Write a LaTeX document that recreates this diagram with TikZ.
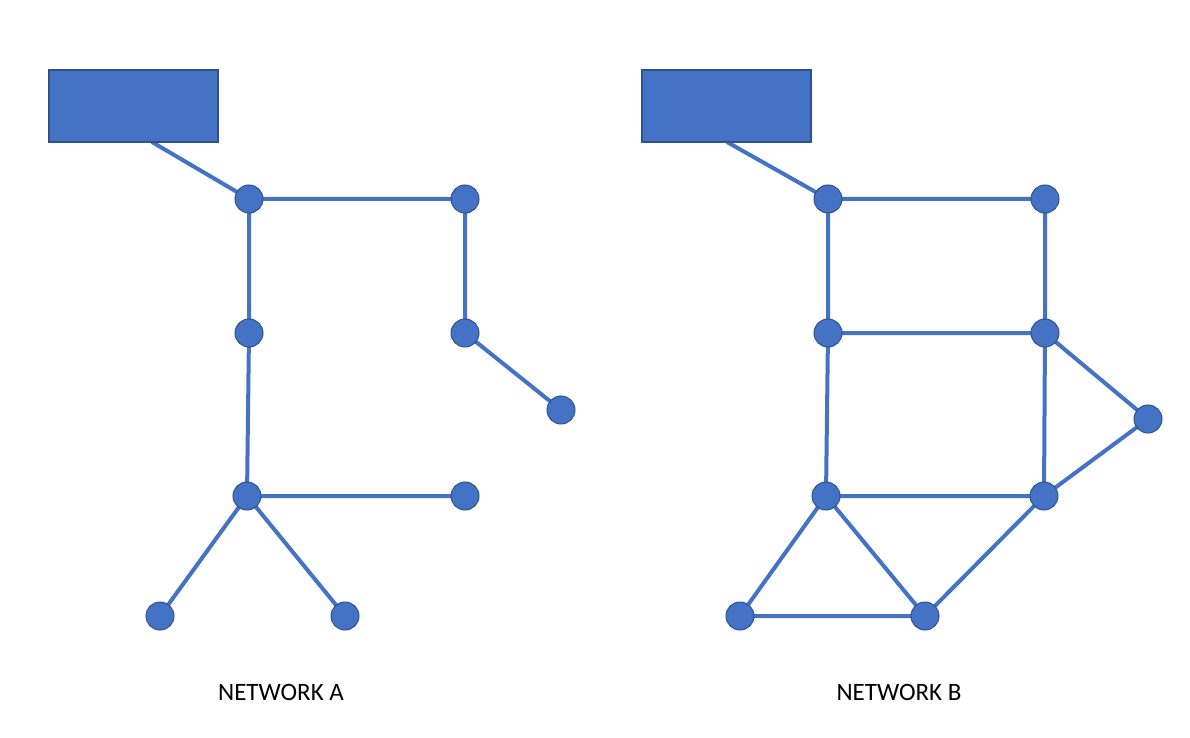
\documentclass[tikz,border=0pt]{standalone}
\usepackage{fontspec}
\setmainfont{Carlito}
\usetikzlibrary{backgrounds}
\definecolor{fillblue}{HTML}{4472C4}
\definecolor{edgeblue}{HTML}{2F528F}
\begin{document}
\begin{tikzpicture}[x=0.5pt,y=-0.5pt,
  dot/.style={circle,fill=fillblue,draw=edgeblue,line width=0.5pt,minimum size=14pt,inner sep=0pt},
  box/.style={rectangle,fill=fillblue,draw=edgeblue,line width=0.6pt,minimum width=84.5pt,minimum height=36pt,inner sep=0pt},
  link/.style={draw=fillblue,line width=2pt},
  lbl/.style={font=\fontsize{12.5pt}{15pt}\selectfont,text=black}]
\useasboundingbox (0,0) rectangle (1190,738);
% Network A
\node[box] (RA) at (133.5,106) {};
\node[dot] (A1) at (249,199) {};
\node[dot] (A2) at (465,199) {};
\node[dot] (A3) at (249,333) {};
\node[dot] (A4) at (465,333) {};
\node[dot] (A5) at (561,410) {};
\node[dot] (A6) at (247,496) {};
\node[dot] (A7) at (465,496) {};
\node[dot] (A8) at (160,616) {};
\node[dot] (A9) at (345,616) {};
\coordinate (RAo) at (152,142);
% Network B
\node[box] (RB) at (726.5,106) {};
\node[dot] (B1) at (828,199) {};
\node[dot] (B2) at (1045,199) {};
\node[dot] (B3) at (828,333) {};
\node[dot] (B4) at (1045,333) {};
\node[dot] (B5) at (1148,419) {};
\node[dot] (B6) at (826,496) {};
\node[dot] (B7) at (1044,496) {};
\node[dot] (B8) at (740,616) {};
\node[dot] (B9) at (925,616) {};
\coordinate (RBo) at (727,142);
\begin{scope}[on background layer]
\path[link] (RAo) -- (A1.center) (A1.center) -- (A2.center) (A1.center) -- (A3.center)
  (A2.center) -- (A4.center) (A4.center) -- (A5.center) (A3.center) -- (A6.center)
  (A6.center) -- (A7.center) (A6.center) -- (A8.center) (A6.center) -- (A9.center);
\path[link] (RBo) -- (B1.center) (B1.center) -- (B2.center) (B1.center) -- (B3.center)
  (B2.center) -- (B4.center) (B3.center) -- (B4.center) (B4.center) -- (B5.center)
  (B3.center) -- (B6.center) (B4.center) -- (B7.center) (B5.center) -- (B7.center)
  (B6.center) -- (B7.center) (B6.center) -- (B8.center) (B6.center) -- (B9.center)
  (B8.center) -- (B9.center) (B9.center) -- (B7.center);
\end{scope}
\node[lbl] (LA) at (281,692) {NETWORK A};
\node[lbl] (LB) at (899,692) {NETWORK B};
\end{tikzpicture}
\end{document}
